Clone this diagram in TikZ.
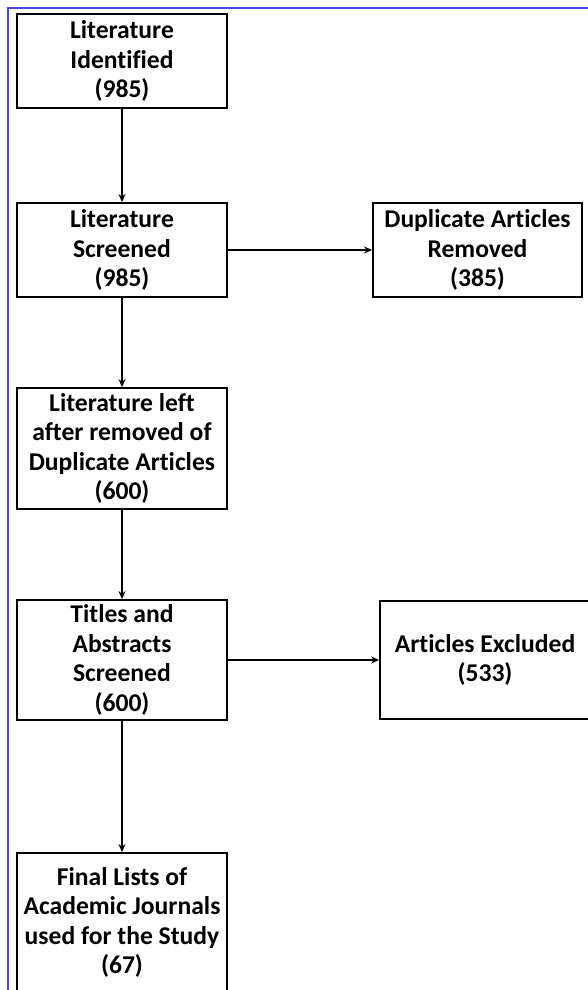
\documentclass[tikz,border=0pt]{standalone}
\usepackage{fontspec}
\setmainfont{Carlito}[Ligatures={NoCommon}]
\usetikzlibrary{arrows.meta}
\definecolor{frameblue}{RGB}{70,70,225}

\begin{document}
\begin{tikzpicture}
		[x=1pt, y=-1pt, thick,
		 main/.style = {draw, rectangle, line width=1.8pt, minimum width=210pt, inner sep=0pt, align=center,
		                font=\bfseries\fontsize{25.6}{29.5}\selectfont},
		 flow/.style = {-{Stealth[length=8pt,width=7pt]}, line width=1.5pt}]
        \useasboundingbox (0,0) rectangle (587,990);
        \draw[frameblue, line width=2pt] (8,1000) -- (8,8) -- (600,8);

        \node[main, minimum height=94pt] (1) at (122,61) {Literature\\Identified\\(985)};
        \node[main, minimum height=94pt, node distance=189pt] (2) [below of = 1] {Literature\\Screened\\(985)};
        \node[main, minimum height=94pt, minimum width=209pt, node distance=355.5pt] (3) [right of = 2] {Duplicate Articles\\Removed\\(385)};
        \node[main, minimum height=121pt, node distance=198.5pt] (4) [below of = 2] {Literature left\\after removed of\\Duplicate Articles\\(600)};
        \node[main, minimum height=120pt, node distance=211.5pt] (5) [below of = 4] {Titles and\\Abstracts\\Screened\\(600)};
        \node[main, minimum height=118pt, node distance=363pt] (6) [right of = 5] {Articles Excluded\\(533)};
        \node[main, minimum height=139pt, node distance=262.5pt] (7) [below of = 5] {Final Lists of\\Academic Journals\\used for the Study\\(67)};

        \draw[flow] (1) -- (2);
        \draw[flow] (2) -- (3);
        \draw[flow] (2) -- (4);
        \draw[flow] (4) -- (5);
        \draw[flow] (5) -- (6);
        \draw[flow] (5) -- (7);
	\end{tikzpicture}
\end{document}
